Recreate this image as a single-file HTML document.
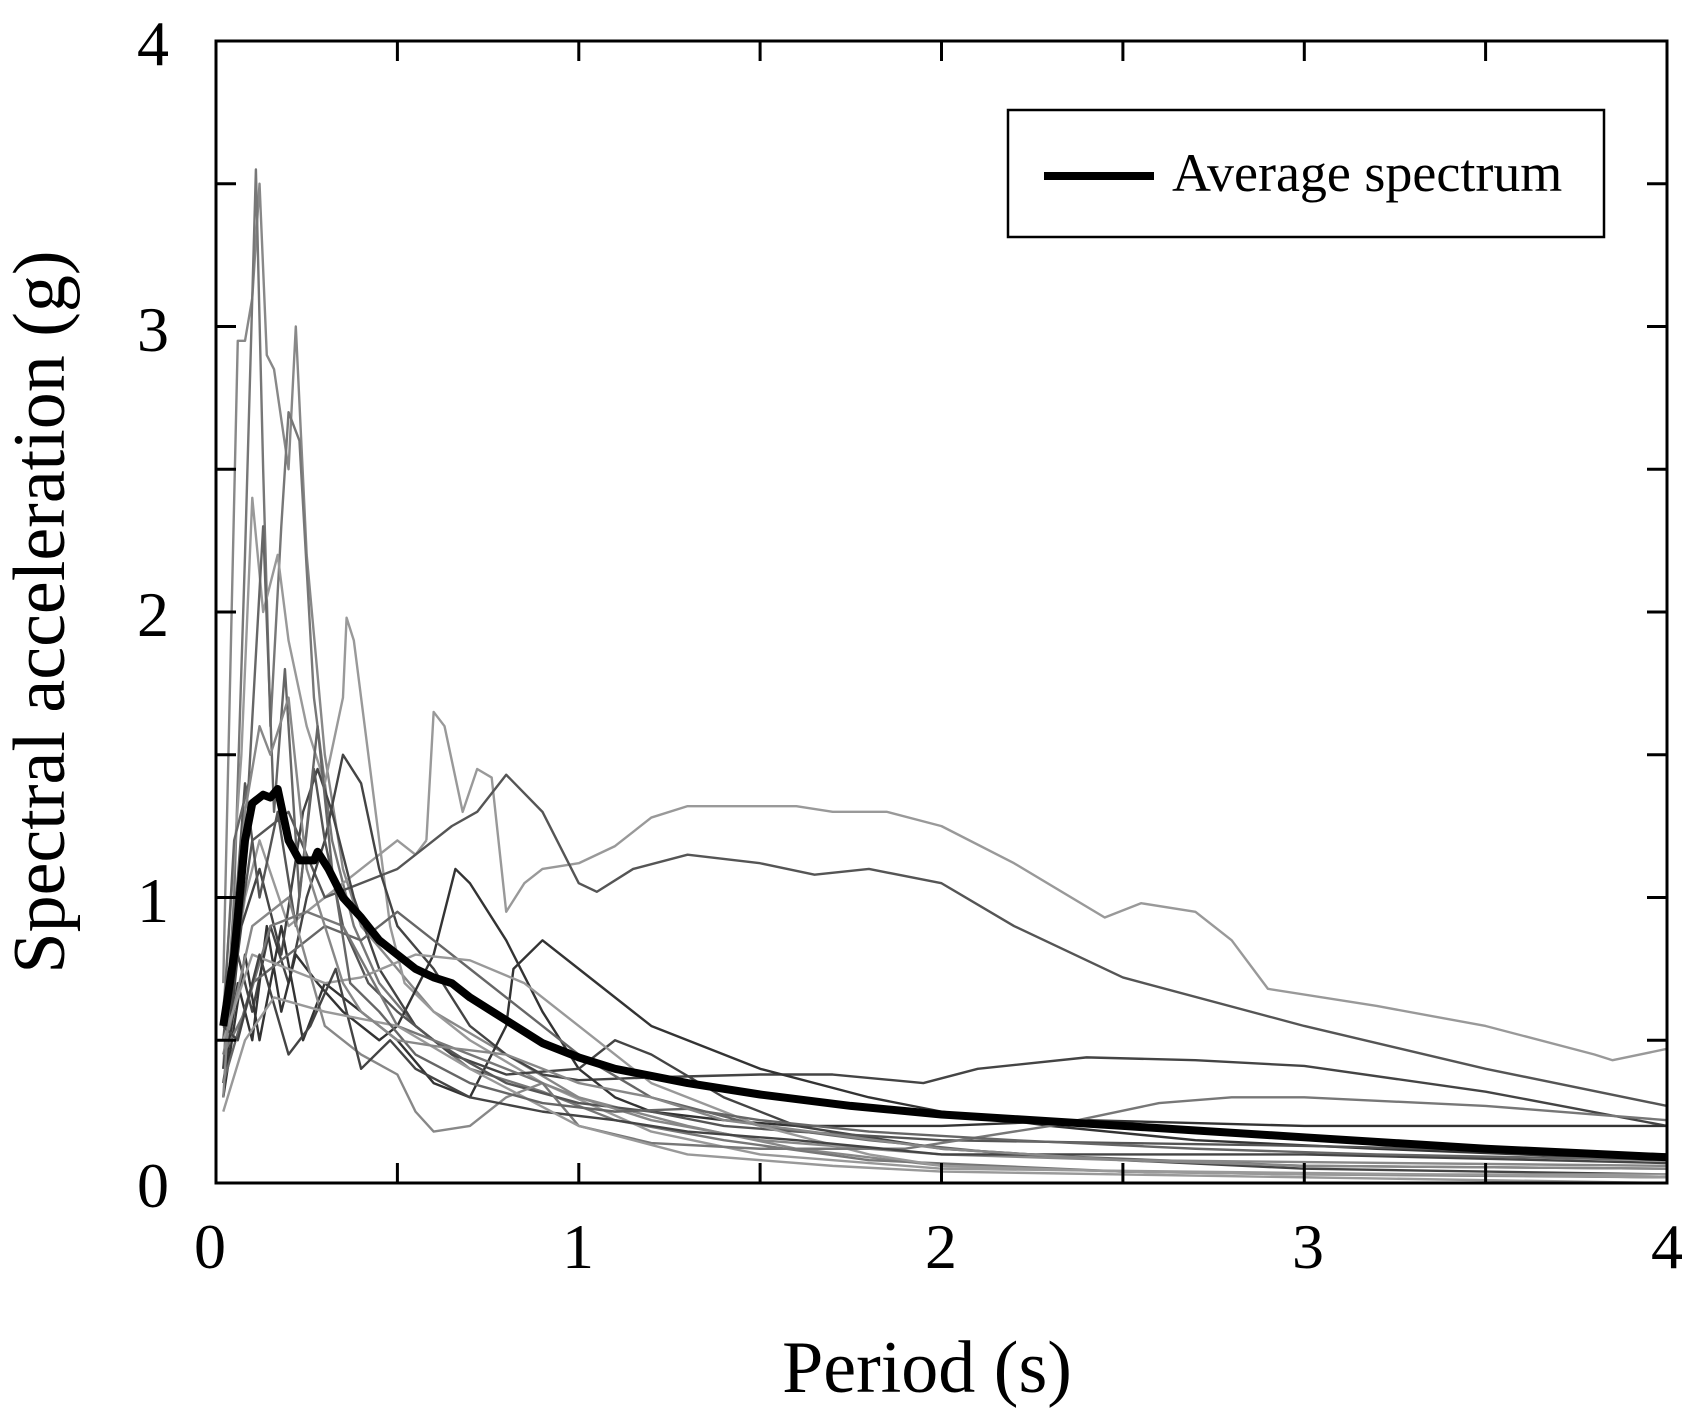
<!DOCTYPE html>
<html><head><style>
html,body{margin:0;padding:0;background:#fff;}
svg{display:block;}
text{font-family:"Liberation Serif",serif;fill:#000;}
</style></head><body>
<svg width="1706" height="1415" viewBox="0 0 1706 1415" xmlns="http://www.w3.org/2000/svg">
<g transform="translate(216,1183) scale(362.75,-285.5)" fill="none" stroke-linejoin="round">
<g>
<polyline vector-effect="non-scaling-stroke" stroke-width="2.4" stroke="#888" points="0.02,0.7 0.06,2.95 0.08,2.95 0.1,3.1 0.12,3.5 0.14,2.9 0.16,2.85 0.2,2.5 0.22,3.0 0.25,2.2 0.3,1.5 0.35,1.1 0.4,0.9 0.5,0.75 0.6,0.6 0.8,0.45 1,0.3 1.3,0.2 1.6,0.12 2,0.06 2.5,0.04 3,0.03 4,0.02"/>
<polyline vector-effect="non-scaling-stroke" stroke-width="2.4" stroke="#777" points="0.02,0.4 0.05,1.0 0.08,2.2 0.11,3.55 0.13,2.5 0.15,1.6 0.18,2.3 0.2,2.7 0.23,2.6 0.27,1.7 0.32,1.2 0.38,0.9 0.45,0.7 0.55,0.55 0.7,0.4 0.9,0.32 1.1,0.22 1.4,0.15 1.8,0.08 2.5,0.04 4,0.02"/>
<polyline vector-effect="non-scaling-stroke" stroke-width="2.4" stroke="#999" points="0.02,0.6 0.07,1.5 0.1,2.4 0.13,2.0 0.17,2.2 0.2,1.9 0.25,1.6 0.3,1.4 0.35,1.7 0.36,1.98 0.38,1.9 0.42,1.5 0.48,0.9 0.52,0.7 0.6,0.6 0.7,0.5 0.9,0.35 1.2,0.18 1.5,0.1 2,0.05 4,0.02"/>
<polyline vector-effect="non-scaling-stroke" stroke-width="2.4" stroke="#999" points="0.58,1.2 0.6,1.65 0.63,1.6 0.68,1.3 0.72,1.45 0.76,1.42 0.8,0.95 0.85,1.05 0.9,1.1 1,1.12 1.1,1.18 1.2,1.28 1.3,1.32 1.6,1.32 1.7,1.3 1.85,1.3 2,1.25 2.2,1.12 2.45,0.93 2.55,0.98 2.7,0.95 2.8,0.85 2.9,0.68 3.2,0.62 3.5,0.55 3.8,0.45 3.85,0.43 4,0.47"/>
<polyline vector-effect="non-scaling-stroke" stroke-width="2.4" stroke="#999" points="0.02,0.5 0.08,1.0 0.12,1.2 0.2,0.9 0.3,1.0 0.4,1.1 0.5,1.2 0.55,1.15 0.58,1.2"/>
<polyline vector-effect="non-scaling-stroke" stroke-width="2.4" stroke="#555" points="0.02,0.5 0.1,1.2 0.2,1.3 0.3,1.0 0.4,1.05 0.5,1.1 0.55,1.15 0.6,1.2 0.65,1.25 0.72,1.3 0.8,1.43 0.9,1.3 1,1.05 1.05,1.02 1.15,1.1 1.3,1.15 1.5,1.12 1.65,1.08 1.8,1.1 2,1.05 2.2,0.9 2.5,0.72 3,0.55 3.5,0.4 4,0.27"/>
<polyline vector-effect="non-scaling-stroke" stroke-width="2.4" stroke="#444" points="0.02,0.3 0.06,0.8 0.1,0.6 0.15,0.9 0.2,0.7 0.25,1.0 0.3,1.2 0.35,1.5 0.4,1.4 0.45,1.1 0.5,0.9 0.6,0.75 0.7,0.55 0.8,0.45 0.9,0.38 1,0.36 1.2,0.37 1.5,0.38 1.7,0.38 1.95,0.35 2.1,0.4 2.4,0.44 2.7,0.43 3,0.41 3.5,0.32 4,0.2"/>
<polyline vector-effect="non-scaling-stroke" stroke-width="2.4" stroke="#333" points="0.02,0.35 0.06,0.7 0.1,0.5 0.14,0.9 0.18,0.6 0.22,0.8 0.28,0.7 0.35,0.6 0.45,0.5 0.5,0.55 0.6,0.8 0.66,1.1 0.7,1.05 0.8,0.85 0.9,0.6 1,0.4 1.1,0.3 1.2,0.25 1.4,0.22 1.6,0.2 2,0.2 2.4,0.22 3,0.2 4,0.2"/>
<polyline vector-effect="non-scaling-stroke" stroke-width="2.4" stroke="#333" points="0.02,0.3 0.08,0.8 0.12,0.5 0.18,0.9 0.24,0.5 0.3,0.7 0.4,0.6 0.5,0.5 0.6,0.35 0.7,0.3 0.8,0.55 0.82,0.75 0.9,0.85 1,0.75 1.2,0.55 1.5,0.4 1.8,0.3 2,0.25 2.3,0.2 2.7,0.15 3.2,0.12 4,0.08"/>
<polyline vector-effect="non-scaling-stroke" stroke-width="2.4" stroke="#444" points="0.02,0.4 0.07,0.9 0.12,1.1 0.18,0.8 0.24,1.3 0.28,1.45 0.32,1.3 0.38,1.0 0.45,0.75 0.55,0.55 0.65,0.45 0.8,0.38 1,0.4 1.1,0.5 1.2,0.45 1.4,0.3 1.6,0.2 2,0.12 2.5,0.08 3,0.05 4,0.03"/>
<polyline vector-effect="non-scaling-stroke" stroke-width="2.4" stroke="#555" points="0.02,0.5 0.05,0.9 0.08,1.4 0.12,1.0 0.17,1.3 0.22,0.9 0.27,1.45 0.3,1.2 0.35,0.9 0.42,0.7 0.5,0.6 0.6,0.5 0.7,0.42 0.8,0.35 1,0.28 1.2,0.25 1.4,0.2 1.6,0.18 2,0.15 2.5,0.14 3,0.13 4,0.1"/>
<polyline vector-effect="non-scaling-stroke" stroke-width="2.4" stroke="#666" points="0.02,0.35 0.1,0.7 0.2,0.8 0.3,0.9 0.4,0.85 0.5,0.95 0.6,0.85 0.7,0.75 0.8,0.65 1,0.45 1.2,0.3 1.5,0.2 1.8,0.15 2.2,0.1 2.6,0.08 3,0.06 4,0.05"/>
<polyline vector-effect="non-scaling-stroke" stroke-width="2.4" stroke="#888" points="0.02,0.45 0.1,0.9 0.2,1.0 0.3,0.55 0.4,0.45 0.5,0.38 0.55,0.25 0.6,0.18 0.7,0.2 0.8,0.3 0.9,0.35 1,0.3 1.2,0.22 1.5,0.15 2,0.1 2.5,0.08 4,0.06"/>
<polyline vector-effect="non-scaling-stroke" stroke-width="2.4" stroke="#999" points="0.02,0.5 0.1,0.8 0.2,0.75 0.3,0.7 0.4,0.72 0.55,0.8 0.7,0.78 0.85,0.7 1,0.55 1.2,0.35 1.5,0.2 1.8,0.1 2,0.06 2.5,0.04 3,0.03 4,0.03"/>
<polyline vector-effect="non-scaling-stroke" stroke-width="2.4" stroke="#777" points="0.02,0.45 0.08,0.6 0.15,0.9 0.25,0.95 0.35,0.9 0.5,0.55 0.7,0.45 0.9,0.35 1,0.2 1.2,0.14 1.5,0.12 1.9,0.12 2.3,0.2 2.6,0.28 2.8,0.3 3,0.3 3.5,0.27 4,0.22"/>
<polyline vector-effect="non-scaling-stroke" stroke-width="2.4" stroke="#444" points="0.02,0.55 0.06,0.5 0.12,0.8 0.2,0.45 0.26,0.55 0.33,0.75 0.4,0.4 0.48,0.5 0.55,0.4 0.7,0.3 0.9,0.25 1.1,0.22 1.3,0.18 1.6,0.15 2,0.1 2.5,0.1 3,0.1 4,0.07"/>
<polyline vector-effect="non-scaling-stroke" stroke-width="2.4" stroke="#999" points="0.02,0.25 0.08,0.5 0.16,0.65 0.3,0.6 0.5,0.55 0.7,0.4 1,0.2 1.3,0.1 1.7,0.06 2,0.04 4,0.0"/>
<polyline vector-effect="non-scaling-stroke" stroke-width="2.4" stroke="#666" points="0.02,0.55 0.05,1.2 0.09,1.4 0.13,2.3 0.16,1.3 0.19,1.8 0.23,1.0 0.28,1.6 0.32,1.1 0.37,0.7 0.45,0.6 0.55,0.45 0.7,0.35 0.9,0.28 1.1,0.25 1.3,0.26 1.5,0.22 1.8,0.18 2.2,0.15 2.7,0.12 3.2,0.1 4,0.08"/>
<polyline vector-effect="non-scaling-stroke" stroke-width="2.4" stroke="#888" points="0.02,0.3 0.05,0.9 0.08,1.3 0.12,1.6 0.15,1.5 0.2,1.7 0.25,1.1 0.3,0.9 0.35,0.7 0.4,0.6 0.5,0.5 0.6,0.48 0.8,0.45 0.9,0.4 1,0.35 1.2,0.3 1.4,0.22 2,0.12 2.5,0.08 3,0.06 4,0.05"/>
</g>
<polyline vector-effect="non-scaling-stroke" stroke="#000" stroke-width="8" points="0.02,0.55 0.05,0.8 0.08,1.2 0.1,1.33 0.13,1.36 0.15,1.35 0.17,1.38 0.2,1.2 0.23,1.13 0.27,1.13 0.28,1.16 0.31,1.1 0.35,1.0 0.4,0.93 0.45,0.85 0.5,0.8 0.55,0.75 0.6,0.72 0.65,0.7 0.7,0.65 0.8,0.57 0.9,0.49 1,0.44 1.1,0.4 1.3,0.35 1.5,0.31 1.75,0.27 2,0.24 2.5,0.2 3,0.16 3.5,0.12 4,0.09"/>
</g>
<rect x="216" y="41" width="1451" height="1142" fill="none" stroke="#000" stroke-width="3"/>
<g stroke="#000" stroke-width="3">
<path d="M397.4,1183v-20M578.8,1183v-20M760.1,1183v-20M941.5,1183v-20M1122.9,1183v-20M1304.3,1183v-20M1485.6,1183v-20
M397.4,41v20M578.8,41v20M760.1,41v20M941.5,41v20M1122.9,41v20M1304.3,41v20M1485.6,41v20
M216,1040.3h20M216,897.5h20M216,754.8h20M216,612h20M216,469.3h20M216,326.5h20M216,183.8h20
M1667,1040.3h-20M1667,897.5h-20M1667,754.8h-20M1667,612h-20M1667,469.3h-20M1667,326.5h-20M1667,183.8h-20"/>
</g>
<rect x="1008" y="110" width="596" height="127" fill="#fff" stroke="#000" stroke-width="2.5"/>
<line x1="1044" y1="176" x2="1154" y2="176" stroke="#000" stroke-width="8"/>
<text x="1172" y="191" font-size="54">Average spectrum</text>
<g font-size="64" text-anchor="middle">
<text x="153" y="65">4</text>
<text x="153" y="351">3</text>
<text x="153" y="636">2</text>
<text x="153" y="922">1</text>
<text x="153" y="1207">0</text>
<text x="210" y="1268">0</text>
<text x="578" y="1268">1</text>
<text x="941" y="1268">2</text>
<text x="1308" y="1268">3</text>
<text x="1667" y="1268">4</text>
<text x="927" y="1392" font-size="74">Period (s)</text>
<text x="0" y="0" font-size="74" transform="translate(64,612) rotate(-90)">Spectral acceleration (g)</text>
</g>
</svg>
</body></html>
